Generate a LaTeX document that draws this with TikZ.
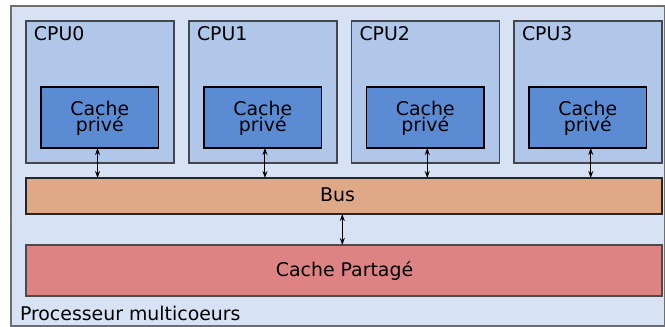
\documentclass[tikz,border=0pt]{standalone}
\usepackage{fontspec}
\setmainfont{DejaVu Sans}
\usetikzlibrary{arrows.meta}
\definecolor{outerfill}{RGB}{215,227,244}
\definecolor{cpufill}{RGB}{177,199,233}
\definecolor{cachefill}{RGB}{91,140,211}
\definecolor{busfill}{RGB}{223,169,135}
\definecolor{sharedfill}{RGB}{221,131,131}
\definecolor{outerline}{RGB}{110,110,110}
\definecolor{cpuline}{RGB}{70,70,80}
\tikzset{
  every node/.style={inner sep=0pt, outer sep=0pt},
  txt/.style={font=\fontsize{18.9}{13.4}\selectfont, text=black},
  outerbox/.style={draw=outerline, line width=1.5pt, fill=outerfill, anchor=north west, minimum width=653.5pt, minimum height=320pt},
  cpubox/.style={draw=cpuline, line width=1.1pt, fill=cpufill, anchor=north west, minimum width=148pt, minimum height=142pt},
  cachebox/.style={draw=black, line width=1.1pt, fill=cachefill, anchor=north west, minimum width=117.5pt, minimum height=61pt},
  busbox/.style={draw=black!85, line width=1.1pt, fill=busfill, anchor=north west, minimum width=636pt, minimum height=36pt},
  sharedbox/.style={draw=black!70, line width=1.1pt, fill=sharedfill, anchor=north west, minimum width=636pt, minimum height=51pt},
  arr/.style={{Stealth[length=7pt,width=5pt]}-{Stealth[length=7pt,width=5pt]}, line width=1pt, black}
}
\begin{document}
\begin{tikzpicture}[x=1pt,y=-1pt]
\useasboundingbox (0,0) rectangle (665,327);
\node[outerbox] (outer) at (11,6) {};
% CPUs
\node[cpubox] (cpu0) at (26,21) {};
\node[cpubox] (cpu1) at (189,21) {};
\node[cpubox] (cpu2) at (351.5,21) {};
\node[cpubox] (cpu3) at (514,21) {};
\node[txt, anchor=base west] (l0) at (34,40.7) {CPU0};
\node[txt, anchor=base west] (l1) at (197,40.7) {CPU1};
\node[txt, anchor=base west] (l2) at (359.5,40.7) {CPU2};
\node[txt, anchor=base west] (l3) at (522,40.7) {CPU3};
% caches
\node[cachebox] (c0) at (41,87) {};
\node[cachebox] (c1) at (204,87) {};
\node[cachebox] (c2) at (366.5,87) {};
\node[cachebox] (c3) at (529,87) {};
\foreach \i in {0,1,2,3}{
  \node[txt, align=center] (ct\i) at ([yshift=-0.8pt]c\i.center) {Cache\\privé};
}
% bus and shared cache
\node[busbox] (bus) at (26,178) {};
\node[txt, anchor=base] (bust) at (337.5,201.7) {Bus};
\node[sharedbox] (shared) at (26,245) {};
\node[txt, anchor=base] (sharedt) at (344.5,276.7) {Cache Partagé};
\node[txt, anchor=base west] (proc) at (20,320) {Processeur multicoeurs};
% arrows
\draw[arr] ([xshift=-2.2pt]c0.south) -- ([xshift=-2.2pt]c0.south |- bus.north);
\draw[arr] ([xshift=2.2pt]c1.south) -- ([xshift=2.2pt]c1.south |- bus.north);
\draw[arr] ([xshift=2pt]c2.south) -- ([xshift=2pt]c2.south |- bus.north);
\draw[arr] ([xshift=3pt]c3.south) -- ([xshift=3pt]c3.south |- bus.north);
\draw[arr] ([xshift=-1.7pt]bus.south) -- ([xshift=-1.7pt]bus.south |- shared.north);
\end{tikzpicture}
\end{document}
